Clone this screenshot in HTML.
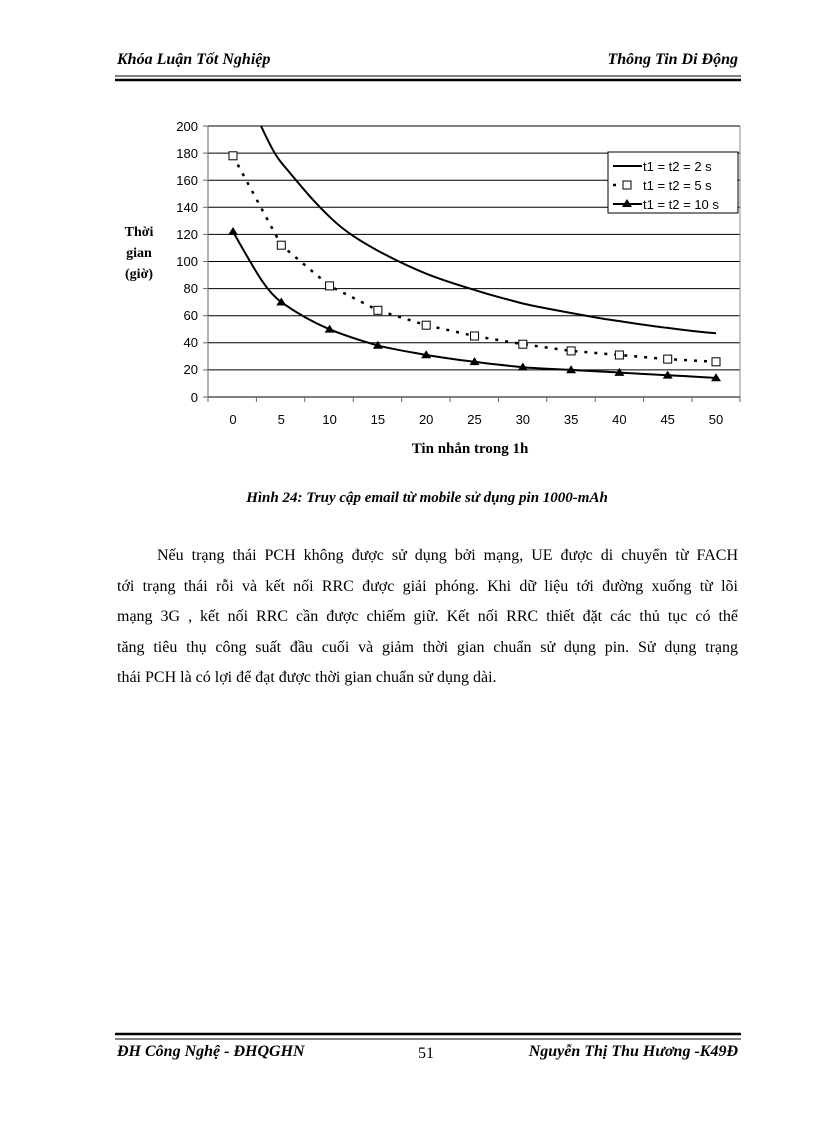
<!DOCTYPE html>
<html><head><meta charset="utf-8"><style>
html,body{margin:0;padding:0;background:#fff}
svg text{font-family:"Liberation Serif","DejaVu Serif",serif}
.s{font-family:"Liberation Sans",Arial,sans-serif !important;font-size:13px;fill:#000}
.l{position:absolute;left:117px;width:621px;font-family:"Liberation Serif",serif;font-size:16px;line-height:20px;text-align:justify;text-align-last:justify;white-space:nowrap}
</style></head><body>
<div style="position:relative;width:816px;height:1123px;overflow:hidden">
<svg width="816" height="1123" style="position:absolute;left:0;top:0">
<text x="117" y="64" font-size="16" font-style="italic" font-weight="bold">Khóa Luận Tốt Nghiệp</text>
<text x="738" y="64" font-size="16" font-style="italic" font-weight="bold" text-anchor="end">Thông Tin Di Động</text>
<line x1="115" y1="76" x2="741" y2="76" stroke="#000" stroke-width="1"/>
<line x1="115" y1="80" x2="741" y2="80" stroke="#000" stroke-width="2.5"/>

<g stroke="#000" stroke-width="1">
<line x1="208" y1="126" x2="740" y2="126"/><line x1="208" y1="153.1" x2="740" y2="153.1"/>
<line x1="208" y1="180.2" x2="740" y2="180.2"/><line x1="208" y1="207.3" x2="740" y2="207.3"/>
<line x1="208" y1="234.4" x2="740" y2="234.4"/><line x1="208" y1="261.5" x2="740" y2="261.5"/>
<line x1="208" y1="288.6" x2="740" y2="288.6"/><line x1="208" y1="315.7" x2="740" y2="315.7"/>
<line x1="208" y1="342.8" x2="740" y2="342.8"/><line x1="208" y1="369.9" x2="740" y2="369.9"/>
<line x1="208" y1="397" x2="740" y2="397"/>
</g>
<line x1="740" y1="126" x2="740" y2="397" stroke="#888"/>
<line x1="208" y1="126" x2="208" y2="397" stroke="#666"/>
<g stroke="#666">
<line x1="203" y1="126" x2="208" y2="126"/><line x1="203" y1="153.1" x2="208" y2="153.1"/><line x1="203" y1="180.2" x2="208" y2="180.2"/><line x1="203" y1="207.3" x2="208" y2="207.3"/><line x1="203" y1="234.4" x2="208" y2="234.4"/><line x1="203" y1="261.5" x2="208" y2="261.5"/><line x1="203" y1="288.6" x2="208" y2="288.6"/><line x1="203" y1="315.7" x2="208" y2="315.7"/><line x1="203" y1="342.8" x2="208" y2="342.8"/><line x1="203" y1="369.9" x2="208" y2="369.9"/><line x1="203" y1="397" x2="208" y2="397"/>
<line x1="208" y1="397" x2="208" y2="402"/><line x1="256.4" y1="397" x2="256.4" y2="402"/><line x1="304.8" y1="397" x2="304.8" y2="402"/><line x1="353.2" y1="397" x2="353.2" y2="402"/><line x1="401.6" y1="397" x2="401.6" y2="402"/><line x1="450" y1="397" x2="450" y2="402"/><line x1="498.4" y1="397" x2="498.4" y2="402"/><line x1="546.8" y1="397" x2="546.8" y2="402"/><line x1="595.2" y1="397" x2="595.2" y2="402"/><line x1="643.6" y1="397" x2="643.6" y2="402"/><line x1="692" y1="397" x2="692" y2="402"/><line x1="740" y1="397" x2="740" y2="402"/>
</g>
<g text-anchor="end">
<text class="s" x="198" y="131">200</text><text class="s" x="198" y="158">180</text><text class="s" x="198" y="185">160</text><text class="s" x="198" y="212">140</text><text class="s" x="198" y="239">120</text><text class="s" x="198" y="266">100</text><text class="s" x="198" y="293">80</text><text class="s" x="198" y="320">60</text><text class="s" x="198" y="347">40</text><text class="s" x="198" y="374">20</text><text class="s" x="198" y="402">0</text>
</g>
<g text-anchor="middle">
<text class="s" x="233" y="424">0</text><text class="s" x="281.3" y="424">5</text><text class="s" x="329.6" y="424">10</text><text class="s" x="377.9" y="424">15</text><text class="s" x="426.2" y="424">20</text><text class="s" x="474.5" y="424">25</text><text class="s" x="522.8" y="424">30</text><text class="s" x="571.1" y="424">35</text><text class="s" x="619.4" y="424">40</text><text class="s" x="667.7" y="424">45</text><text class="s" x="716" y="424">50</text>
</g>
<text x="470" y="453" font-size="15" font-weight="bold" text-anchor="middle">Tin nhắn trong 1h</text>
<text x="139" y="236" font-size="14" font-weight="bold" text-anchor="middle">Thời</text>
<text x="139" y="257" font-size="14" font-weight="bold" text-anchor="middle">gian</text>
<text x="139" y="278" font-size="14" font-weight="bold" text-anchor="middle">(giờ)</text>

<path d="M261,126 C270,145 275,155 281.3,162.6 C300,185 312,200 329.6,216.8 C345,232 362,242 377.9,250.7 C395,260 410,267 426.2,273.7 C442,280 458,285 474.5,289.9 C490,295 506,299 522.8,303.5 C538,307 555,310 571.1,313 C587,316 603,319 619.4,321.1 C635,323.5 651,326 667.7,327.9 C683,330 700,332 716,333.3" fill="none" stroke="#000" stroke-width="2"/>
<polyline points="233,155.8 281.3,245.2 329.6,285.9 377.9,310.3 426.2,325.2 474.5,336 522.8,344.2 571.1,350.9 619.4,355 667.7,359.1 716,361.8" fill="none" stroke="#000" stroke-width="2.5" stroke-dasharray="3,7"/>
<g fill="#fff" stroke="#000" stroke-width="1">
<rect x="229" y="151.8" width="8" height="8"/><rect x="277.3" y="241.2" width="8" height="8"/><rect x="325.6" y="281.9" width="8" height="8"/><rect x="373.9" y="306.3" width="8" height="8"/><rect x="422.2" y="321.2" width="8" height="8"/><rect x="470.5" y="332" width="8" height="8"/><rect x="518.8" y="340.2" width="8" height="8"/><rect x="567.1" y="346.9" width="8" height="8"/><rect x="615.4" y="351" width="8" height="8"/><rect x="663.7" y="355.1" width="8" height="8"/><rect x="712" y="357.8" width="8" height="8"/>
</g>
<path d="M233,231.7 C255,270 265,290 281.3,302.2 C298,314 312,322 329.6,329.3 C346,336 362,341 377.9,345.5 C394,349.5 410,352 426.2,355 C442,357.5 458,360 474.5,361.8 C490,364 506,365.5 522.8,367.2 C538,368.5 555,369 571.1,369.9 C587,371 603,371.5 619.4,372.6 C635,373.5 651,374.5 667.7,375.3 C683,376 700,377 716,378" fill="none" stroke="#000" stroke-width="2"/>
<g fill="#000">
<path d="M233,227 l5,8 h-10z"/><path d="M281.3,297.5 l5,8 h-10z"/><path d="M329.6,324.6 l5,8 h-10z"/><path d="M377.9,340.8 l5,8 h-10z"/><path d="M426.2,350.3 l5,8 h-10z"/><path d="M474.5,357.1 l5,8 h-10z"/><path d="M522.8,362.5 l5,8 h-10z"/><path d="M571.1,365.2 l5,8 h-10z"/><path d="M619.4,367.9 l5,8 h-10z"/><path d="M667.7,370.6 l5,8 h-10z"/><path d="M716,373.3 l5,8 h-10z"/>
</g>
<rect x="608" y="152" width="130" height="61" fill="#fff" stroke="#000"/>
<line x1="613" y1="166" x2="642" y2="166" stroke="#000" stroke-width="2"/>
<text class="s" x="643" y="171">t1 = t2 = 2 s</text>
<line x1="613" y1="185" x2="622" y2="185" stroke="#000" stroke-width="2.5" stroke-dasharray="3,6"/>
<rect x="623" y="181" width="8" height="8" fill="#fff" stroke="#000"/>
<text class="s" x="643" y="190">t1 = t2 = 5 s</text>
<line x1="613" y1="204" x2="642" y2="204" stroke="#000" stroke-width="2"/>
<path d="M627,199 l5,8 h-10z" fill="#000"/>
<text class="s" x="643" y="209">t1 = t2 = 10 s</text>

<text x="427" y="502" font-size="15" font-weight="bold" font-style="italic" text-anchor="middle">Hình  24: Truy cập email từ mobile sử dụng pin 1000-mAh</text>

<line x1="115" y1="1034" x2="741" y2="1034" stroke="#000" stroke-width="2.5"/>
<line x1="115" y1="1039" x2="741" y2="1039" stroke="#000" stroke-width="1"/>
<text x="117" y="1056" font-size="16" font-style="italic" font-weight="bold">ĐH Công Nghệ - ĐHQGHN</text>
<text x="426" y="1058" font-size="16" text-anchor="middle">51</text>
<text x="738" y="1056" font-size="16" font-style="italic" font-weight="bold" text-anchor="end">Nguyễn Thị Thu Hương -K49Đ</text>
</svg>
<div class="l" style="top:546px;left:157px;width:581px">Nếu trạng thái PCH không được sử dụng bởi mạng, UE được di chuyển từ FACH</div>
<div class="l" style="top:577px">tới trạng thái rỗi và kết nối RRC được giải phóng. Khi dữ liệu tới đường xuống từ lõi</div>
<div class="l" style="top:607px">mạng 3G , kết nối RRC cần được chiếm giữ. Kết nối RRC thiết đặt các thủ tục có thể</div>
<div class="l" style="top:638px">tăng tiêu thụ công suất đầu cuối và giảm thời gian chuẩn sử dụng pin. Sử dụng trạng</div>
<div class="l" style="top:668px;text-align-last:left">thái PCH là có lợi để đạt được thời gian chuẩn sử dụng dài.</div>
</div>
</body></html>
